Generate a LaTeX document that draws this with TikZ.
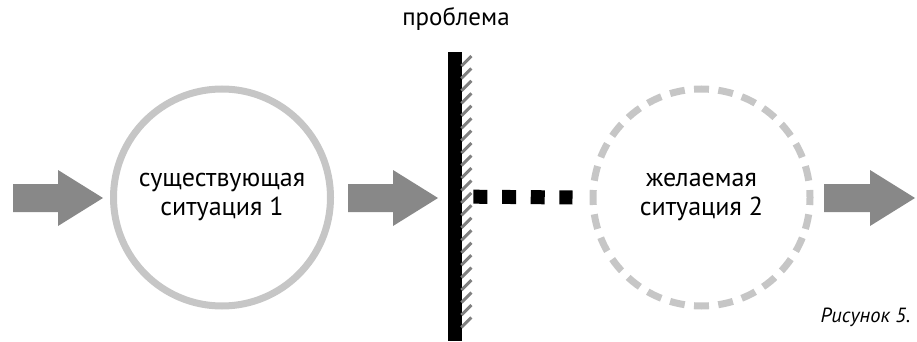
\documentclass[tikz,border=0pt]{standalone}
\usepackage{fontspec}
\setmainfont{PT Sans}
\usetikzlibrary{calc}
\definecolor{arrowgray}{HTML}{888888}
\definecolor{ringgray}{HTML}{C6C6C6}
\definecolor{hatchgray}{HTML}{808080}
\tikzset{
  blockarrow/.style={fill=arrowgray, draw=none},
  ring/.style={circle, draw=ringgray, line width=7pt, minimum size=217pt, inner sep=0pt, align=center, font=\fontsize{26}{29}\selectfont},
  hatch/.style={draw=hatchgray, line width=3pt},
  squares/.style={line width=14pt, dash pattern=on 14pt off 14.67pt}
}
\begin{document}
\begin{tikzpicture}[x=1pt,y=-1pt]
\useasboundingbox (0,0) rectangle (917,342);
% arrows
\fill[blockarrow] (13,184) -- (58,184) -- (58,170) -- (103,198) -- (58,226) -- (58,212) -- (13,212) -- cycle;
\fill[blockarrow] (348,184) -- (393,184) -- (393,170) -- (438,198) -- (393,226) -- (393,212) -- (348,212) -- cycle;
\fill[blockarrow] (824,184) -- (870,184) -- (870,170) -- (915,198) -- (870,226) -- (870,212) -- (824,212) -- cycle;
% circles
\node[ring] (c1) at (222,197.5) {существующая\\ситуация 1};
\node[ring, dash pattern=on 15pt off 9.347pt, dash phase=7.5pt] (c2) at (701.5,197.5) {желаемая\\ситуация 2};
% wall
\node[fill=black, minimum width=14pt, minimum height=289pt, inner sep=0pt, anchor=north west] (wall) at (448,52) {};
\foreach \i in {0,...,21} {
  \draw[hatch] ($(wall.north east)+(-1,14+12.45*\i)$) -- ++(10,-10);
}
% problem label
\node[font=\fontsize{25}{29}\selectfont] (prob) at (456,19) {проблема};
% dotted connector
\coordinate (s0) at ($(wall.east)+(11,0)$);
\draw[squares] (s0) -- ($(c2.west)+(-17,0)$);
% caption
\node[font=\fontsize{20.5}{24}\selectfont\itshape, anchor=east] (cap) at (914,317) {Рисунок 5.};
\end{tikzpicture}
\end{document}
